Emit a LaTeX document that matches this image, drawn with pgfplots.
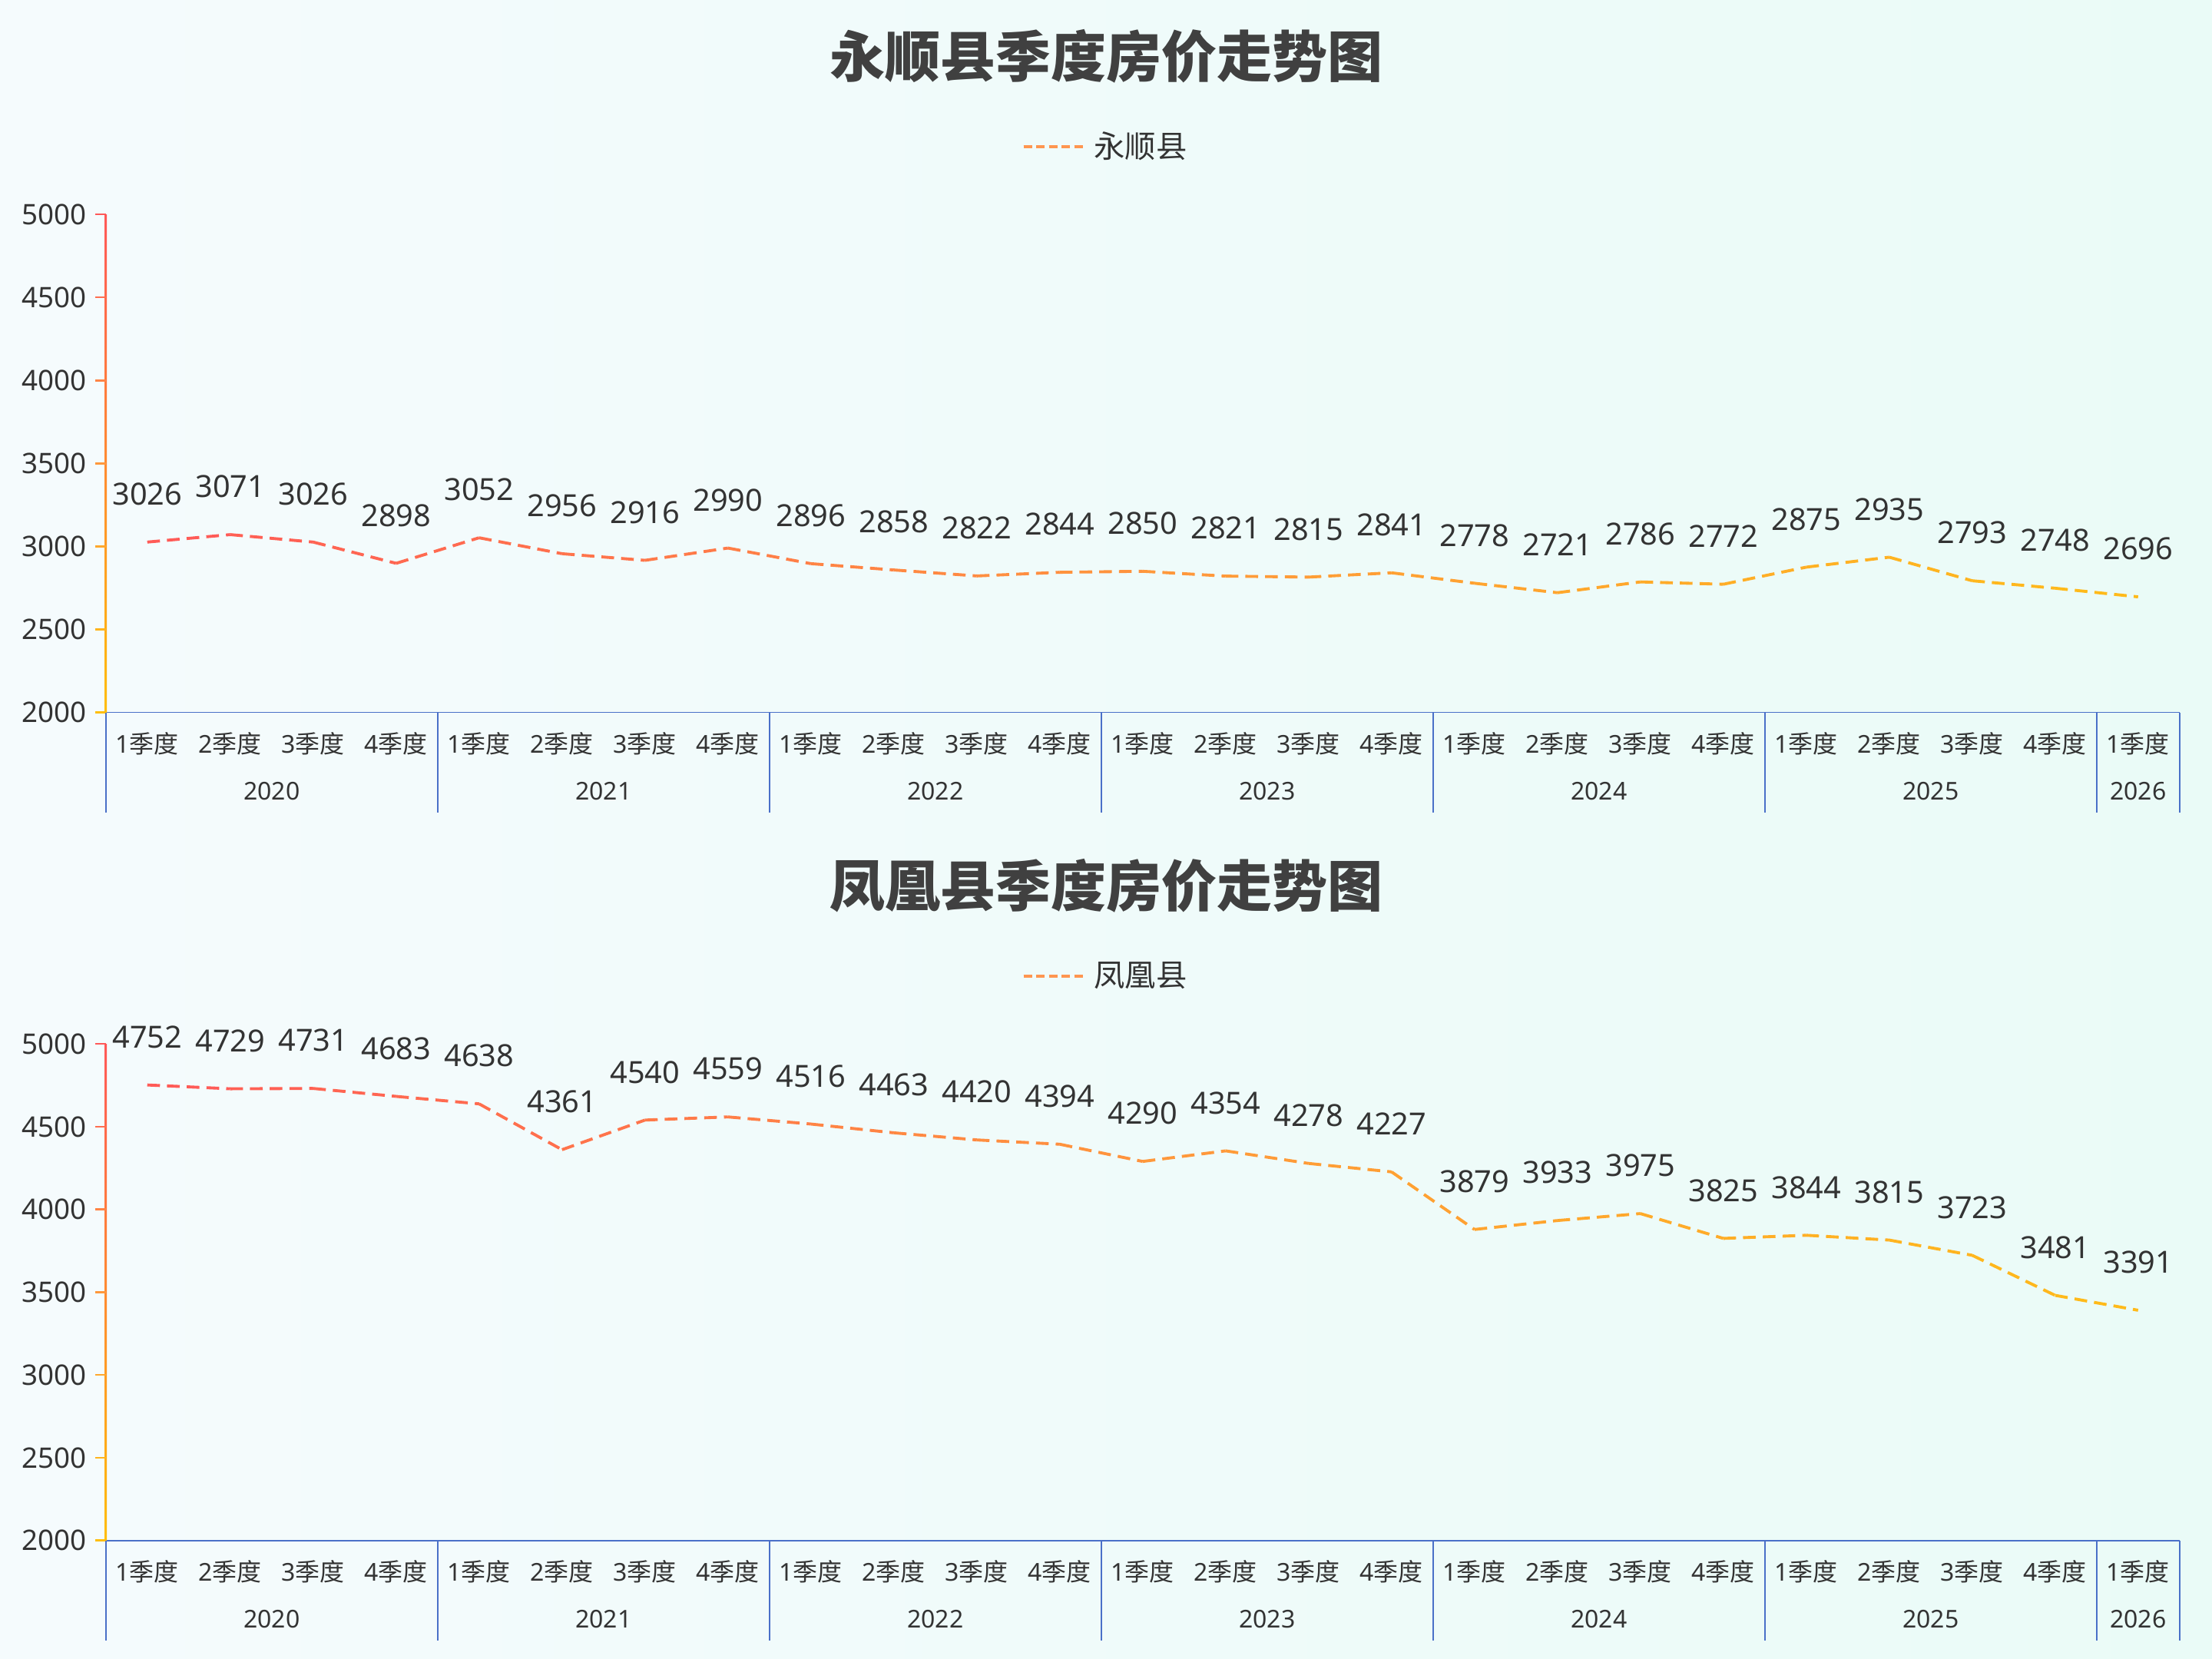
\documentclass[border=0pt]{standalone}
\usepackage{pgfplots}
\pgfplotsset{compat=1.18}
\usepackage{pgfplotstable}
\usepackage{fontspec}
\setmainfont{Noto Sans}
\newfontfamily\cjk{Noto Sans CJK SC}

\definecolor{bgL}{RGB}{245,251,253}
\definecolor{bgR}{RGB}{234,251,247}
\definecolor{labcol}{RGB}{51,51,51}
\definecolor{titlecol}{RGB}{64,64,64}
\definecolor{xblue}{RGB}{74,112,200}
\definecolor{legcol}{RGB}{255,150,80}
\definecolor{t20}{RGB}{255,190,10}
\definecolor{t25}{RGB}{255,180,30}
\definecolor{t30}{RGB}{255,168,45}
\definecolor{t35}{RGB}{255,152,60}
\definecolor{t40}{RGB}{255,132,70}
\definecolor{t45}{RGB}{255,110,80}
\definecolor{t50}{RGB}{255,88,88}

\pgfplotstableread{
i v
0 3026
1 3071
2 3026
3 2898
4 3052
5 2956
6 2916
7 2990
8 2896
9 2858
10 2822
11 2844
12 2850
13 2821
14 2815
15 2841
16 2778
17 2721
18 2786
19 2772
20 2875
21 2935
22 2793
23 2748
24 2696
}\dataA

\pgfplotstableread{
i v
0 4752
1 4729
2 4731
3 4683
4 4638
5 4361
6 4540
7 4559
8 4516
9 4463
10 4420
11 4394
12 4290
13 4354
14 4278
15 4227
16 3879
17 3933
18 3975
19 3825
20 3844
21 3815
22 3723
23 3481
24 3391
}\dataB

\newcommand\q[1]{#1{\cjk 季度}}
\newcommand\fs[1]{\fontsize{#1}{#1}\selectfont}
\newcommand\yr[2]{\node[font=\fs{8.7}, text=labcol] at ([yshift=-28pt]axis cs:#1,2000) {#2};}

% gradient y axis line, its ticks, year labels and separators
\newcommand\axisdeco{%
  \shade[top color=t50, middle color=t35, bottom color=t20]
    ([xshift=-0.4pt]rel axis cs:0,0) rectangle ([xshift=0.4pt]rel axis cs:0,1);
  \draw[t20, line width=0.7pt] (axis cs:-0.5,2000) -- ++(-3.8pt,0pt);
  \draw[t25, line width=0.7pt] (axis cs:-0.5,2500) -- ++(-3.8pt,0pt);
  \draw[t30, line width=0.7pt] (axis cs:-0.5,3000) -- ++(-3.8pt,0pt);
  \draw[t35, line width=0.7pt] (axis cs:-0.5,3500) -- ++(-3.8pt,0pt);
  \draw[t40, line width=0.7pt] (axis cs:-0.5,4000) -- ++(-3.8pt,0pt);
  \draw[t45, line width=0.7pt] (axis cs:-0.5,4500) -- ++(-3.8pt,0pt);
  \draw[t50, line width=0.7pt] (axis cs:-0.5,5000) -- ++(-3.8pt,0pt);
  \pgfplotsinvokeforeach{-0.5,3.5,7.5,11.5,15.5,19.5,23.5,24.5}{%
    \draw[xblue, line width=0.5pt] (axis cs:##1,2000) -- ++(0pt,-35.5pt);}
  \yr{1.5}{2020}\yr{5.5}{2021}\yr{9.5}{2022}\yr{13.5}{2023}
  \yr{17.5}{2024}\yr{21.5}{2025}\yr{24}{2026}
}

\pgfplotsset{
  hp/.style={
    scale only axis, width=735pt, height=176.5pt, anchor=south west,
    xmin=-0.5, xmax=24.5, ymin=2000, ymax=5000,
    axis lines=left, axis line style={-},
    x axis line style={draw=xblue, line width=0.5pt},
    y axis line style={draw=none},
    xtick={0,...,24},
    xticklabels={\q1,\q2,\q3,\q4,\q1,\q2,\q3,\q4,\q1,\q2,\q3,\q4,
                 \q1,\q2,\q3,\q4,\q1,\q2,\q3,\q4,\q1,\q2,\q3,\q4,\q1},
    ytick={2000,2500,...,5000},
    xtick style={draw=none}, ytick style={draw=none},
    xticklabel style={font=\fs{8.7}, text=labcol, anchor=center, yshift=-9pt},
    yticklabel style={font=\fs{10}, text=labcol, xshift=-1.2pt},
    /pgf/number format/assume math mode=true,
    /pgf/number format/1000 sep={},
    clip=false,
    colormap={warm}{rgb255=(255,88,88) rgb255=(255,150,60) rgb255=(255,188,25)},
    point meta min=0, point meta max=24,
    legend style={at={(0.483,1.136)}, anchor=center, draw=none, fill=none,
                  font=\fs{11}, text=labcol},
    legend image code/.code={\path (0pt,0pt) -- (22.5pt,0pt);
                             \draw[##1] (0pt,0pt) -- (20pt,0pt);},
  },
  trend/.style={mesh, point meta=x, line width=1.05pt, dash pattern=on 4.5pt off 2.5pt, forget plot},
  vals/.style={draw=none, mark=none, forget plot, nodes near coords,
               point meta=explicit symbolic,
               every node near coord/.append style={font=\fs{10.8}, text=labcol, anchor=center, yshift=17pt}},
}

\begin{document}
\begin{tikzpicture}
\shade[left color=bgL, right color=bgR] (0pt,0pt) rectangle (784pt,588pt);

\node[font=\cjk\bfseries\fs{19.6}, text=titlecol] at (392pt,568pt) {永顺县季度房价走势图};
\begin{axis}[hp, at={(37.5pt,335.5pt)}]
  \addplot[trend] table[x=i, y=v] {\dataA};
  \addplot[vals] table[x=i, y=v, meta=v] {\dataA};
  \addlegendimage{line width=1.05pt, dash pattern=on 3pt off 1.5pt, color=legcol}
  \addlegendentry{{\cjk 永顺县}}
  \axisdeco
\end{axis}

\node[font=\cjk\bfseries\fs{19.6}, text=titlecol] at (392pt,274pt) {凤凰县季度房价走势图};
\begin{axis}[hp, at={(37.5pt,42pt)}, height=176pt]
  \addplot[trend] table[x=i, y=v] {\dataB};
  \addplot[vals] table[x=i, y=v, meta=v] {\dataB};
  \addlegendimage{line width=1.05pt, dash pattern=on 3pt off 1.5pt, color=legcol}
  \addlegendentry{{\cjk 凤凰县}}
  \axisdeco
\end{axis}

\pgfresetboundingbox
\useasboundingbox (0pt,0pt) rectangle (784pt,588pt);
\end{tikzpicture}
\end{document}
